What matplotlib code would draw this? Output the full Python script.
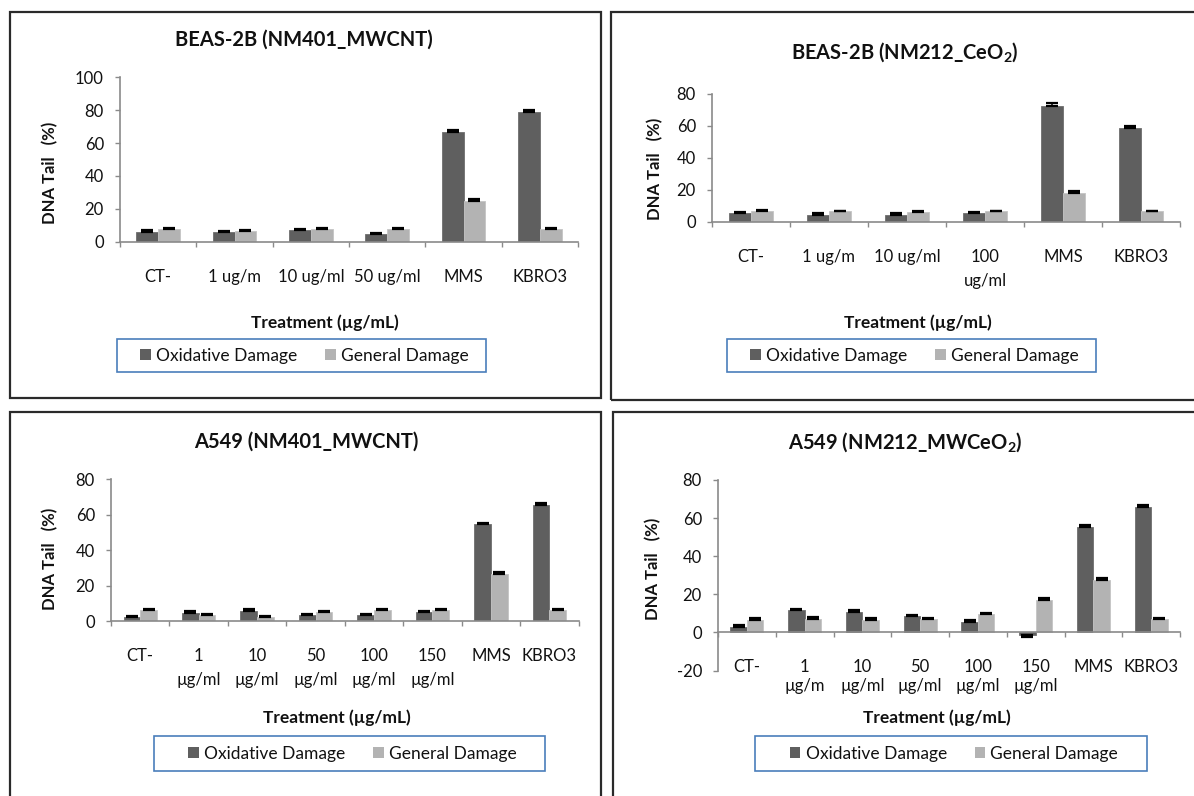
import matplotlib
matplotlib.use("Agg")
import matplotlib.pyplot as plt
from matplotlib.patches import Rectangle, Patch
from matplotlib.ticker import FixedLocator
import numpy as np

plt.rcParams['font.family'] = ['Lato', 'DejaVu Sans']
plt.rcParams['mathtext.default'] = 'regular'

W, H = 1194, 796
DPI = 100

# ---------------- data ----------------
cat1 = ["CT-", "1 ug/m", "10 ug/ml", "50 ug/ml", "MMS", "KBRO3"]
ox1 = [6, 6, 7, 4.5, 67, 79]
gen1 = [7.5, 6.5, 7.5, 7.5, 25, 8]
oxe1 = [1, 0.8, 1, 1, 1, 1]
gene1 = [1, 0.5, 1, 0.8, 0.8, 0.5]

cat2 = ["CT-", "1 ug/m", "10 ug/ml", "100\nug/ml", "MMS", "KBRO3"]
ox2 = [5.5, 4.5, 4.5, 5.5, 72.5, 59]
gen2 = [6.5, 6.5, 6, 6.5, 18, 6.5]
oxe2 = [0.5, 1, 1, 0.5, 2, 1]
gene2 = [0.8, 0.5, 1, 0.5, 1, 0.5]

cat3 = ["CT-", "1\nµg/ml", "10\nµg/ml", "50\nµg/ml", "100\nµg/ml", "150\nµg/ml", "MMS", "KBRO3"]
ox3 = [2.5, 4.5, 5.5, 3.5, 3.5, 5, 54.5, 65.5]
gen3 = [6, 3.5, 2.5, 5, 6, 6, 26.5, 6]
oxe3 = [0.5, 1, 1, 0.5, 0.5, 0.5, 1, 1]
gene3 = [0.5, 0.5, 0.3, 0.5, 0.5, 0.5, 1, 0.5]

cat4 = ["CT-", "1\nµg/m", "10\nµg/ml", "50\nµg/ml", "100\nµg/ml", "150\nµg/ml", "MMS", "KBRO3"]
ox4 = [3, 11.5, 10.5, 8.5, 5.5, -1.5, 55.5, 66]
gen4 = [6.5, 7, 6.5, 7, 9.5, 17, 27.5, 7]
oxe4 = [1, 1, 1.5, 0.5, 1, 1, 1, 1]
gene4 = [1, 1, 1, 0.5, 0.5, 1, 1, 0.5]

titles = ["BEAS-2B (NM401_MWCNT)", "BEAS-2B (NM212_CeO$_2$)",
          "A549 (NM401_MWCNT)", "A549 (NM212_MWCeO$_2$)"]
yticks1 = [0, 20, 40, 60, 80, 100]
yticks2 = [0, 20, 40, 60, 80]
yticks3 = [0, 20, 40, 60, 80]
yticks4 = [-20, 0, 20, 40, 60, 80]
series_names = ["Oxidative Damage", "General Damage"]
xlabel = "Treatment (µg/mL)"
ylabel = "DNA Tail   (%)"

# ---------------- layout (pixels) ----------------
panels = [
    dict(cats=cat1, ox=ox1, gen=gen1, oxe=oxe1, gene=gene1, yt=yticks1, ylim=(0, 100),
         ax=(120, 578, 77.3, 241.7), title=(304, 40), xl=(325, 323), yl=(50, 173),
         leg=(117, 486, 339, 372)),
    dict(cats=cat2, ox=ox2, gen=gen2, oxe=oxe2, gene=gene2, yt=yticks2, ylim=(0, 80),
         ax=(712, 1180, 94, 221.7), title=(905, 52), xl=(918, 323), yl=(655, 169),
         leg=(727, 1096, 339, 372)),
    dict(cats=cat3, ox=ox3, gen=gen3, oxe=oxe3, gene=gene3, yt=yticks3, ylim=(0, 80),
         ax=(111, 578.6, 479.3, 621), title=(306, 442), xl=(337, 718), yl=(50, 559),
         leg=(154, 545, 736, 771)),
    dict(cats=cat4, ox=ox4, gen=gen4, oxe=oxe4, gene=gene4, yt=yticks4, ylim=(-20, 80),
         ax=(718, 1180, 480, 670.5), title=(905, 442), xl=(937, 718), yl=(653, 569),
         leg=(755, 1147, 736, 771)),
]
frames = [(9.6, 600.7, 11.7, 397.7), (611.3, 1210, 11.7, 400),
          (9.6, 600.7, 411.7, 810), (613.3, 1210, 411.7, 810)]

DARK = "#5f5f5f"
LIGHT = "#b3b3b3"
TXT = "#111111"
AXC = "#8a8a8a"

fig = plt.figure(figsize=(W / DPI, H / DPI), dpi=DPI)
fig.patch.set_facecolor("white")

def fx(x):
    return x / W

def fy(y):
    return 1 - y / H

def plus_err(vals, errs):
    lo = [e if v < 0 else 0 for v, e in zip(vals, errs)]
    hi = [e if v >= 0 else 0 for v, e in zip(vals, errs)]
    return [lo, hi]

for (x0, x1, y0, y1) in frames:
    fig.patches.append(Rectangle((fx(x0), fy(y1)), fx(x1) - fx(x0), fy(y0) - fy(y1),
                                 transform=fig.transFigure, fill=False,
                                 edgecolor="#2a2a2a", linewidth=1.6, zorder=0))

for i, p in enumerate(panels):
    x0, x1, ytop, ybot = p["ax"]
    ax = fig.add_axes([fx(x0), fy(ybot), fx(x1) - fx(x0), fy(ytop) - fy(ybot)])
    n = len(p["cats"])
    xs = np.arange(n)
    bw = 0.285
    ax.bar(xs - bw / 2, p["ox"], bw, color=DARK, edgecolor="#6e6e6e", linewidth=0.6, zorder=2)
    ax.bar(xs + bw / 2, p["gen"], bw, color=LIGHT, edgecolor="#c4c4c4", linewidth=0.6, zorder=2)
    ax.errorbar(xs - bw / 2, p["ox"], yerr=plus_err(p["ox"], p["oxe"]), fmt="none",
                ecolor="black", elinewidth=1.1, capsize=4.5, capthick=1.6, zorder=3)
    ax.errorbar(xs + bw / 2, p["gen"], yerr=plus_err(p["gen"], p["gene"]), fmt="none",
                ecolor="black", elinewidth=1.1, capsize=4.5, capthick=1.6, zorder=3)
    ax.set_xlim(-0.5, n - 0.5)
    ax.set_ylim(*p["ylim"])
    ax.set_yticks(p["yt"])
    ax.set_yticklabels([str(v) for v in p["yt"]])
    ax.set_xticks(xs)
    ax.set_xticklabels(p["cats"], linespacing=1.62)
    ax.xaxis.set_minor_locator(FixedLocator(np.arange(n + 1) - 0.5))
    for s in ["top", "right"]:
        ax.spines[s].set_visible(False)
    for s in ["left", "bottom"]:
        ax.spines[s].set_color(AXC)
        ax.spines[s].set_linewidth(1.2)
    if p["ylim"][0] < 0:
        ax.spines["bottom"].set_position(("data", 0))
    ax.tick_params(axis="y", direction="out", length=3.6, width=1.0, color=AXC,
                   labelsize=12, labelcolor=TXT, pad=8)
    ax.tick_params(axis="x", which="major", length=0, labelsize=12, labelcolor=TXT, pad=19.5)
    ax.tick_params(axis="x", which="minor", direction="out", length=3.6, width=1.0, color=AXC)
    ax.set_facecolor("none")

    fig.text(fx(p["title"][0]), fy(p["title"][1]), titles[i], ha="center", va="center",
             fontsize=14.5, fontweight="bold", color=TXT)
    fig.text(fx(p["xl"][0]), fy(p["xl"][1]), xlabel, ha="center", va="center",
             fontsize=12.5, fontweight="bold", color=TXT)
    fig.text(fx(p["yl"][0]), fy(p["yl"][1]), ylabel, ha="center", va="center",
             rotation=90, fontsize=12, fontweight="bold", color=TXT)

    lx0, lx1, ly0, ly1 = p["leg"]
    fig.patches.append(Rectangle((fx(lx0), fy(ly1)), fx(lx1) - fx(lx0), fy(ly0) - fy(ly1),
                                 transform=fig.transFigure, fill=False,
                                 edgecolor="#4a7ebb", linewidth=1.2, zorder=1))
    handles = [Patch(facecolor=DARK, edgecolor="none"), Patch(facecolor=LIGHT, edgecolor="none")]
    fig.legend(handles, series_names, loc="center",
               bbox_to_anchor=(fx((lx0 + lx1) / 2 + 3), fy((ly0 + ly1) / 2)),
               ncol=2, frameon=False, fontsize=12.5, handlelength=0.6, handleheight=0.6,
               handletextpad=0.3, columnspacing=1.6, labelcolor=TXT)

fig.savefig("out.png", dpi=DPI, facecolor="white")
